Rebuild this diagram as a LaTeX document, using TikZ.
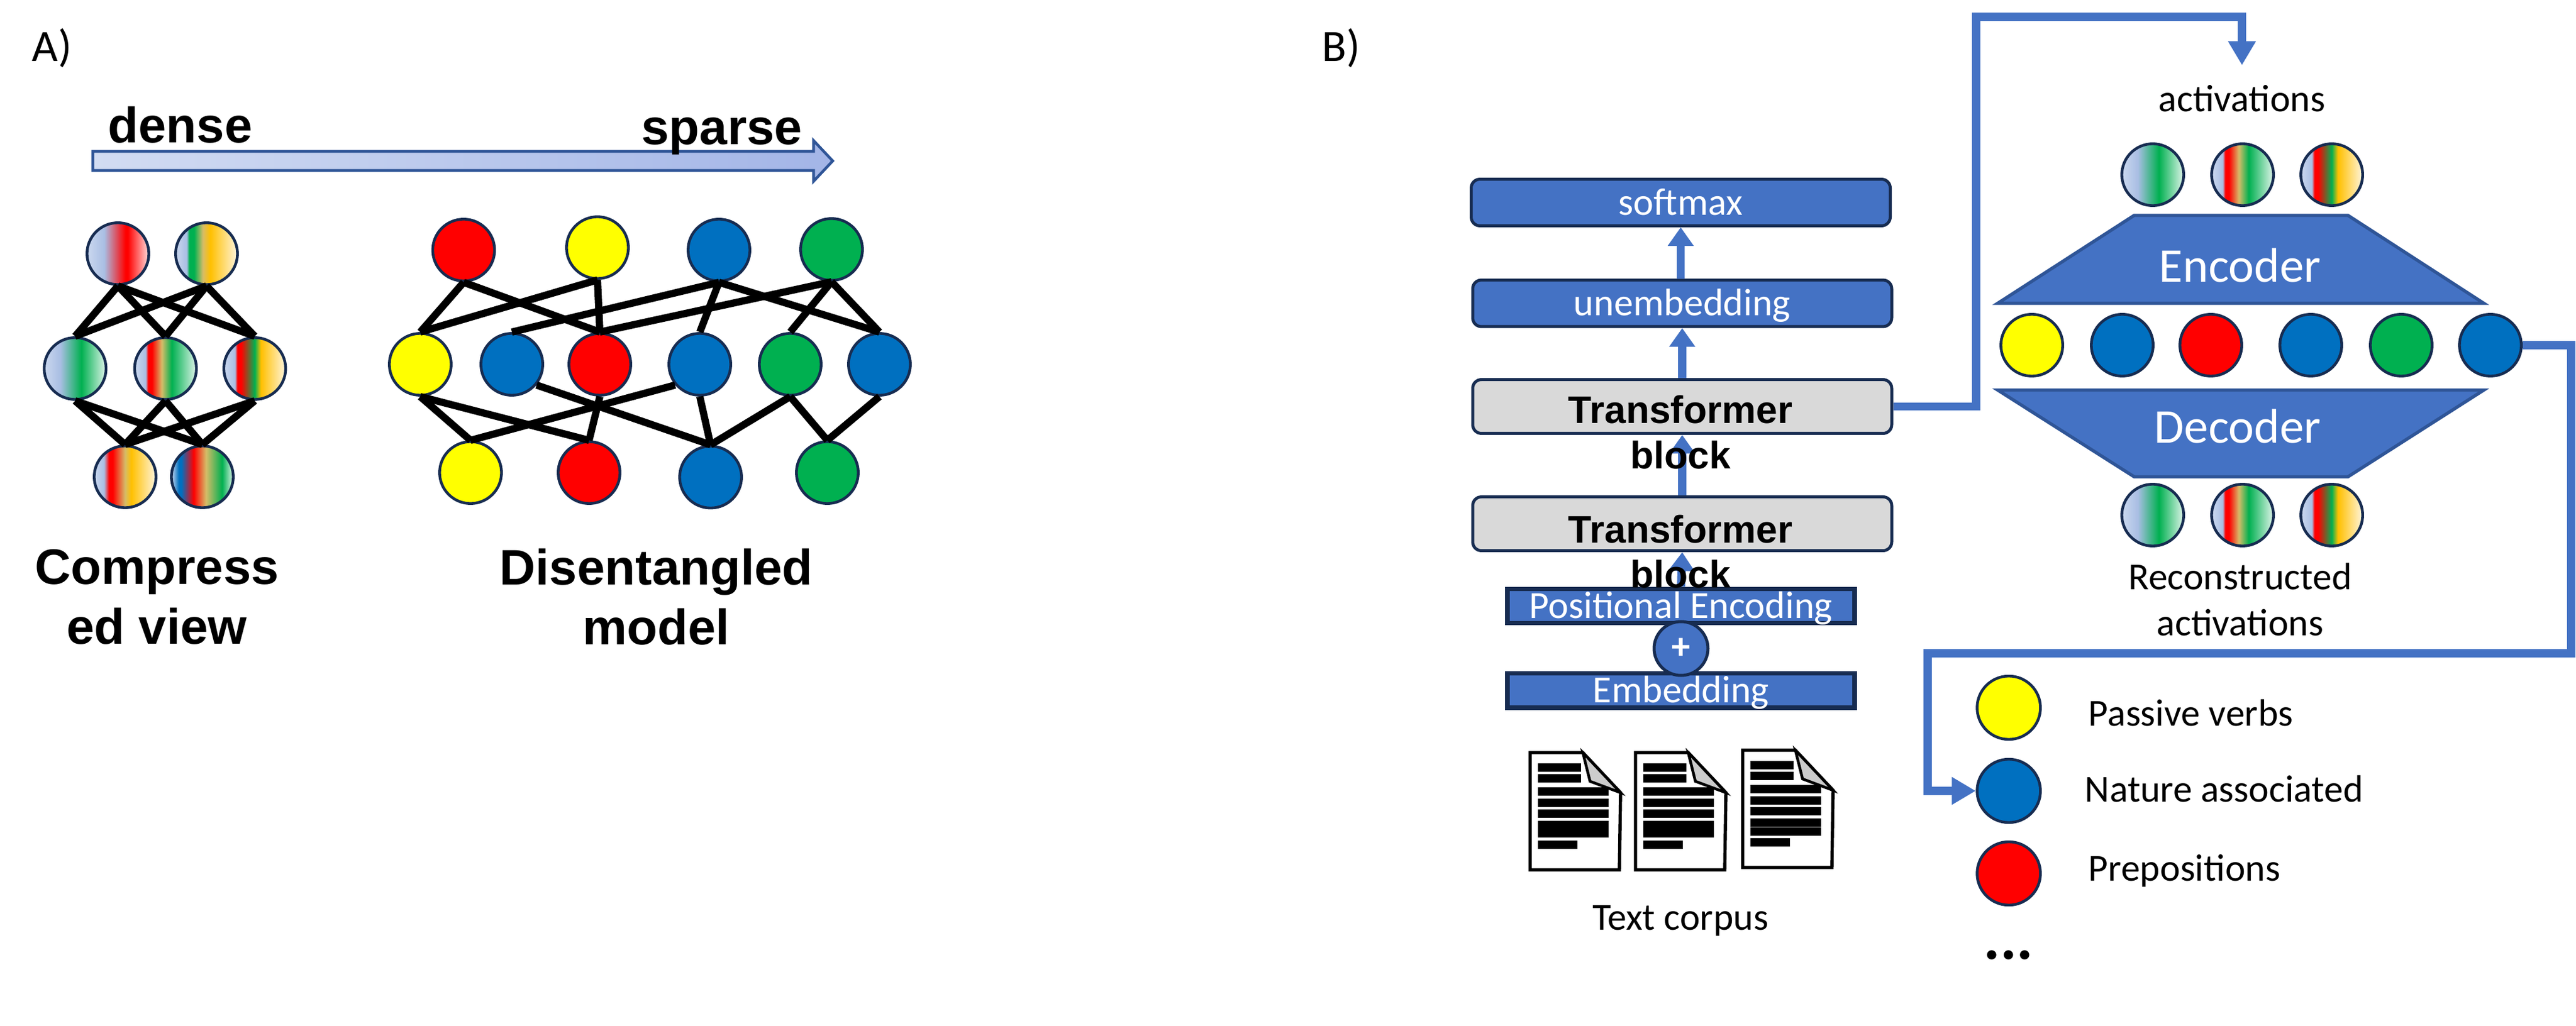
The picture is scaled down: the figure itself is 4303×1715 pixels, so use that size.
\documentclass[tikz,border=0pt]{standalone}
\usepackage{fontspec}
\usepackage{xcolor}
\usetikzlibrary{arrows.meta}
\setmainfont{Carlito}
\newfontfamily\armfont{Liberation Sans}

\definecolor{pale}{HTML}{CBD8EF}
\definecolor{sky}{HTML}{A9BEE3}
\definecolor{netred}{HTML}{FF0000}
\definecolor{netyellow}{HTML}{FFFF00}
\definecolor{netblue}{HTML}{0070C0}
\definecolor{netgreen}{HTML}{00B050}
\definecolor{tan}{HTML}{D6BC68}
\definecolor{gold}{HTML}{FFC000}
\definecolor{cream}{HTML}{FFF5DE}
\definecolor{mint}{HTML}{E0F5EA}
\definecolor{blush}{HTML}{FFDCDC}
\definecolor{boxblue}{HTML}{4472C4}
\definecolor{boxline}{HTML}{172C51}
\definecolor{trapline}{HTML}{2F5597}
\definecolor{boxgray}{HTML}{D9D9D9}
\definecolor{arrowleft}{HTML}{D2DCF2}
\definecolor{arrowright}{HTML}{A3B5E7}

\pgfdeclarehorizontalshading{gradbr}{100bp}{color(0bp)=(pale); color(25bp)=(pale); color(39bp)=(sky); color(56bp)=(netred); color(58bp)=(netred); color(75bp)=(blush); color(100bp)=(blush)}
\pgfdeclarehorizontalshading{gradgo}{100bp}{color(0bp)=(pale); color(25bp)=(pale); color(34bp)=(sky); color(36bp)=(netgreen); color(40bp)=(netgreen); color(47bp)=(tan); color(53bp)=(gold); color(75bp)=(cream); color(100bp)=(cream)}
\pgfdeclarehorizontalshading{gradg}{100bp}{color(0bp)=(pale); color(25bp)=(pale); color(38bp)=(sky); color(55bp)=(netgreen); color(75bp)=(mint); color(100bp)=(mint)}
\pgfdeclarehorizontalshading{gradrg}{100bp}{color(0bp)=(pale); color(25bp)=(pale); color(34bp)=(sky); color(36bp)=(netred); color(39bp)=(netred); color(47bp)=(tan); color(55bp)=(netgreen); color(75bp)=(mint); color(100bp)=(mint)}
\pgfdeclarehorizontalshading{gradrgo}{100bp}{color(0bp)=(pale); color(25bp)=(pale); color(34bp)=(sky); color(36bp)=(netred); color(39bp)=(netred); color(50bp)=(netgreen); color(55bp)=(gold); color(75bp)=(cream); color(100bp)=(cream)}
\pgfdeclarehorizontalshading{gradro}{100bp}{color(0bp)=(pale); color(25bp)=(pale); color(33bp)=(sky); color(37bp)=(netred); color(40bp)=(netred); color(50bp)=(tan); color(55bp)=(gold); color(75bp)=(cream); color(100bp)=(cream)}
\pgfdeclarehorizontalshading{gradbrg}{100bp}{color(0bp)=(pale); color(25bp)=(pale); color(31bp)=(netblue); color(33bp)=(netblue); color(43bp)=(netred); color(53bp)=(tan); color(66bp)=(netgreen); color(75bp)=(mint); color(100bp)=(mint)}

\tikzset{
  unit/.style={circle, draw=boxline, line width=1.1pt, minimum size=24.8pt, inner sep=0pt},
  solid unit/.style={unit, fill=#1},
  mixed unit/.style={unit, shade, shading=#1},
  netedge/.style={black, line width=2.9pt},
  blockbox/.style={draw=boxline, fill=boxblue, line width=1.2pt, rounded corners=3.5pt, minimum width=168pt, minimum height=18.7pt, inner sep=0pt, text=white, font=\fontsize{15.4}{18}\selectfont, text height=10pt, text depth=0pt},
  graybox/.style={blockbox, fill=boxgray, minimum height=21.6pt},
  flatbox/.style={draw=boxline, fill=boxblue, line width=1.7pt, minimum width=139.2pt, minimum height=13.9pt, inner sep=0pt, text=white, font=\fontsize{15.4}{18}\selectfont, text height=10pt, text depth=0pt},
  thinarrow/.style={boxblue, line width=3.3pt, -{Triangle[length=7.5pt, width=10pt]}},
  flow/.style={boxblue, line width=3.3pt, -{Triangle[length=9.6pt, width=10.5pt]}},
  trap/.style={draw=trapline, fill=boxblue, line width=1.3pt},
  boldlabel/.style={font=\armfont\bfseries\fontsize{20}{24}\selectfont, inner sep=0pt, align=center},
  blocklabel/.style={font=\armfont\bfseries\fontsize{15.4}{18.3}\selectfont, inner sep=0pt, align=center},
  plainlabel/.style={font=\fontsize{15.3}{18.3}\selectfont, inner sep=0pt, align=center},
  doc/.style={draw=black, fill=white, line width=1.3pt}
}

\begin{document}
\begin{tikzpicture}[x=0.24pt, y=-0.24pt]
  \useasboundingbox (0,0) rectangle (4303,1715);

  \node[font=\fontsize{18}{22}\selectfont, inner sep=0pt, anchor=base west] (panela) at (53,103) {A)};
  \node[font=\fontsize{18}{22}\selectfont, inner sep=0pt, anchor=base west] (panelb) at (2208,103) {B)};

  \draw[line width=1.1pt, draw=trapline, left color=arrowleft, right color=arrowright] (155,253) -- (1359,253) -- (1359,235) -- (1391,269) -- (1359,303) -- (1359,285) -- (155,285) -- cycle;
  \node[boldlabel, anchor=base] (dense) at (301,239) {dense};
  \node[boldlabel, anchor=base] (sparse) at (1206,242) {sparse};

  \node[mixed unit=gradbr] (ctop1) at (197,424) {};
  \node[mixed unit=gradgo] (ctop2) at (345,424) {};
  \node[mixed unit=gradg] (cmid1) at (125.5,616) {};
  \node[mixed unit=gradrg] (cmid2) at (276.5,616) {};
  \node[mixed unit=gradrgo] (cmid3) at (425.5,616) {};
  \node[mixed unit=gradro] (cbot1) at (209,797) {};
  \node[mixed unit=gradbrg] (cbot2) at (338,797) {};
  \foreach \a in {ctop1,ctop2}
    \foreach \b in {cmid1,cmid2,cmid3}
      \draw[netedge] (\a.south) -- (\b.north);
  \foreach \a in {cmid1,cmid2,cmid3}
    \foreach \b in {cbot1,cbot2}
      \draw[netedge] (\a.south) -- (\b.north);
  \node[boldlabel, anchor=center] (compressed) at (262,998) {Compress\\ed view};

  \node[solid unit=netred] (dtop1) at (774.5,418) {};
  \node[solid unit=netyellow] (dtop2) at (998,414) {};
  \node[solid unit=netblue] (dtop3) at (1201,418) {};
  \node[solid unit=netgreen] (dtop4) at (1389,417) {};
  \node[solid unit=netyellow] (dmid1) at (702,609) {};
  \node[solid unit=netblue] (dmid2) at (855,609) {};
  \node[solid unit=netred] (dmid3) at (1002,609) {};
  \node[solid unit=netblue] (dmid4) at (1169,609) {};
  \node[solid unit=netgreen] (dmid5) at (1320,609) {};
  \node[solid unit=netblue] (dmid6) at (1469,609) {};
  \node[solid unit=netyellow] (dbot1) at (786,790) {};
  \node[solid unit=netred] (dbot2) at (984,790) {};
  \node[solid unit=netblue] (dbot3) at (1187,797.5) {};
  \node[solid unit=netgreen] (dbot4) at (1382,790) {};
  \foreach \a/\b in {dtop1/dmid1, dtop1/dmid3, dtop2/dmid1, dtop2/dmid3, dtop3/dmid2, dtop3/dmid4, dtop3/dmid6, dtop4/dmid3, dtop4/dmid5, dtop4/dmid6, dmid1/dbot1, dmid1/dbot2, dmid3/dbot2, dmid4/dbot3, dmid5/dbot3, dmid5/dbot4, dmid6/dbot4}
    \draw[netedge] (\a.south) -- (\b.north);
  \draw[netedge] (dmid2.-40) -- (dbot3.north);
  \draw[netedge] (dmid4.220) -- (dbot1.north);
  \node[boldlabel, anchor=center] (disentangled) at (1096,998) {Disentangled\\model};

  \node[blockbox] (softmax) at (2807.5,338.5) {softmax};
  \node[blockbox] (unembedding) at (2810,507) {unembedding};
  \node[graybox] (tblock1) at (2810,679.5) {};
  \node[graybox] (tblock2) at (2810,875.5) {};
  \node[flatbox] (positional) at (2808,1013) {Positional Encoding};
  \node[flatbox] (embedding) at (2808,1154) {Embedding};
  \node[circle, draw=boxline, fill=boxblue, line width=1.2pt, minimum size=21.6pt, inner sep=0pt, text=white, font=\bfseries\fontsize{15}{18}\selectfont] (plus) at (2808,1084) {+};

  \draw[thinarrow] (unembedding.north -| softmax) -- (softmax.south);
  \draw[thinarrow] (tblock1.north) -- (unembedding.south);
  \draw[thinarrow] (tblock2.north) -- (tblock1.south);
  \draw[thinarrow] (positional.north) -- (tblock2.south);

  \node[blocklabel, anchor=base] (tlabel1) at (2807,708) {Transformer};
  \node[blocklabel, anchor=base] (blabel1) at (2807,784) {block};
  \node[blocklabel, anchor=base] (tlabel2) at (2807,907) {Transformer};
  \node[blocklabel, anchor=base] (blabel2) at (2807,983) {block};

  \foreach \dx/\dy in {0/0, 176/0, 355/-4} {
    \begin{scope}[shift={(\dx,\dy)}]
      \draw[doc] (2556,1258) -- (2644,1258) -- (2707,1325) -- (2705,1454) -- (2556,1454) -- cycle;
      \draw[draw=black, fill=black!20, line width=1.1pt] (2644,1258) -- (2656,1306) -- (2707,1325) -- cycle;
      \fill[black] (2569,1276) rectangle (2641,1290);
      \fill[black] (2569,1294) rectangle (2641,1308);
      \fill[black] (2569,1316) rectangle (2687,1330);
      \fill[black] (2569,1335) rectangle (2687,1349);
      \fill[black] (2569,1353) rectangle (2687,1367);
    \end{scope}
  }
  \foreach \dx in {0, 176} {
    \fill[black] (2569+\dx,1372) rectangle (2687+\dx,1400);
    \fill[black] (2569+\dx,1405) rectangle (2635+\dx,1419);
  }
  \fill[black] (2924,1368) rectangle (3042,1382);
  \fill[black] (2924,1383) rectangle (3042,1397);
  \fill[black] (2924,1401) rectangle (2990,1415);
  \node[plainlabel, anchor=base] (corpus) at (2807,1554) {Text corpus};

  \node[plainlabel, anchor=base] (activations) at (3745,187) {activations};
  \node[mixed unit=gradg] (atop1) at (3596,292) {};
  \node[mixed unit=gradrg] (atop2) at (3746,292) {};
  \node[mixed unit=gradrgo] (atop3) at (3895,292) {};
  \draw[trap] (3565,360) -- (3922,360) -- (4149,507) -- (3337,507) -- cycle;
  \node[font=\fontsize{19.5}{24}\selectfont, text=white, inner sep=0pt, anchor=base] (encoder) at (3742,472) {Encoder};
  \node[solid unit=netyellow] (hid1) at (3394,577) {};
  \node[solid unit=netblue] (hid2) at (3545,577) {};
  \node[solid unit=netred] (hid3) at (3693,577) {};
  \node[solid unit=netblue] (hid4) at (3860,577) {};
  \node[solid unit=netgreen] (hid5) at (4011,577) {};
  \node[solid unit=netblue] (hid6) at (4160,577) {};
  \draw[trap] (3337,652) -- (4149,652) -- (3922,797) -- (3565,797) -- cycle;
  \node[font=\fontsize{19.5}{24}\selectfont, text=white, inner sep=0pt, anchor=base] (decoder) at (3738,741) {Decoder};
  \node[mixed unit=gradg] (abot1) at (3596,861) {};
  \node[mixed unit=gradrg] (abot2) at (3746,861) {};
  \node[mixed unit=gradrgo] (abot3) at (3895,861) {};
  \node[plainlabel, anchor=base] (recon1) at (3742,986) {Reconstructed};
  \node[plainlabel, anchor=base] (recon2) at (3742,1062) {activations};

  \node[unit, fill=netyellow, minimum size=25.4pt] (legyellow) at (3355.5,1183) {};
  \node[unit, fill=netblue, minimum size=25.4pt] (legblue) at (3355.5,1322) {};
  \node[unit, fill=netred, minimum size=25.4pt] (legred) at (3355.5,1460) {};
  \node[plainlabel, anchor=base west] (legpassive) at (3488,1213) {Passive verbs};
  \node[plainlabel, anchor=base west] (legnature) at (3482,1340) {Nature associated};
  \node[plainlabel, anchor=base west] (legprep) at (3488,1472) {Prepositions};
  \node[font=\bfseries\fontsize{25}{30}\selectfont, inner sep=0pt, anchor=base] (legdots) at (3355,1603) {...};

  \coordinate (riseturn) at (3301,28);
  \coordinate (actin) at (3745,109);
  \coordinate (sideturn) at (4295,1092);
  \coordinate (legturn) at (3220,1322);
  \draw[flow] (tblock1.east) -| (riseturn) -| (actin);
  \draw[flow] (hid6.east) -| (sideturn) -| (legturn) -- (legblue.west);
\end{tikzpicture}
\end{document}
